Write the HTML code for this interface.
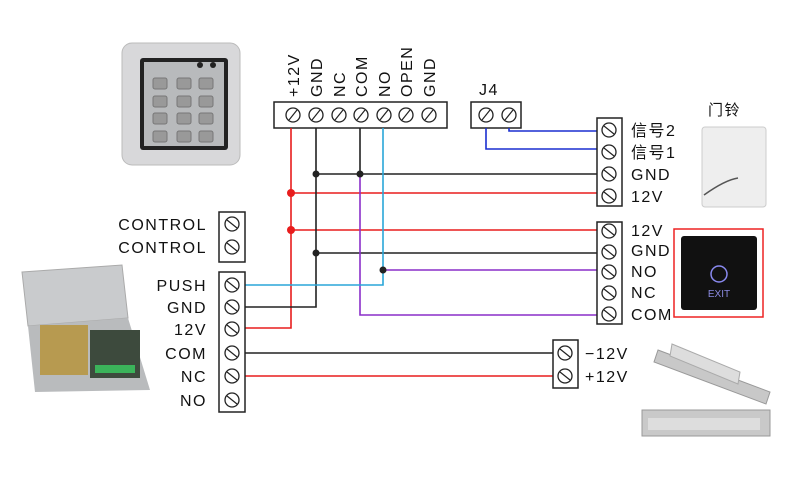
<!DOCTYPE html>
<html><head><meta charset="utf-8"><style>
html,body{margin:0;padding:0;background:#fff;}
svg{display:block;}
text{font-family:"Liberation Sans","Noto Sans CJK SC",sans-serif;font-size:16px;fill:#111;letter-spacing:1.5px;}
</style></head><body>
<svg width="794" height="482" viewBox="0 0 794 482" xmlns="http://www.w3.org/2000/svg">
<defs>
<g id="sa"><circle r="7" fill="#fff" stroke="#222" stroke-width="1.3"/><line x1="-5" y1="-4" x2="5" y2="4" stroke="#222" stroke-width="1.2"/></g>
<g id="sb"><circle r="7" fill="#fff" stroke="#222" stroke-width="1.3"/><line x1="-4" y1="5" x2="4" y2="-5" stroke="#222" stroke-width="1.2"/></g>
</defs>
<!-- keypad -->
<rect x="122" y="43" width="118" height="122" rx="10" fill="#d8d8da" stroke="#bbb"/>
<rect x="140" y="58" width="88" height="92" rx="3" fill="#222"/>
<rect x="144" y="62" width="80" height="84" fill="#b8babc"/>
<circle cx="200" cy="65" r="3" fill="#222"/><circle cx="213" cy="65" r="3" fill="#222"/>
<g fill="#999" stroke="#777">
<rect x="153" y="78" width="14" height="11" rx="2"/><rect x="177" y="78" width="14" height="11" rx="2"/><rect x="199" y="78" width="14" height="11" rx="2"/>
<rect x="153" y="96" width="14" height="11" rx="2"/><rect x="177" y="96" width="14" height="11" rx="2"/><rect x="199" y="96" width="14" height="11" rx="2"/>
<rect x="153" y="113" width="14" height="11" rx="2"/><rect x="177" y="113" width="14" height="11" rx="2"/><rect x="199" y="113" width="14" height="11" rx="2"/>
<rect x="153" y="131" width="14" height="11" rx="2"/><rect x="177" y="131" width="14" height="11" rx="2"/><rect x="199" y="131" width="14" height="11" rx="2"/>
</g>
<!-- power supply -->
<polygon points="22,272 122,265 128,318 28,326" fill="#c9cbcd" stroke="#aaa"/>
<polygon points="28,326 128,318 150,390 35,392" fill="#b9bbbd"/>
<rect x="40" y="325" width="48" height="50" fill="#b79a50"/>
<rect x="90" y="330" width="50" height="48" fill="#3d4a3d"/>
<rect x="95" y="365" width="40" height="8" fill="#3bb35a"/>
<!-- top terminal block -->
<rect x="274" y="102" width="173" height="26" fill="#fff" stroke="#222" stroke-width="1.5"/>
<use href="#sb" x="293" y="115"/><use href="#sb" x="316" y="115"/><use href="#sb" x="339" y="115"/><use href="#sb" x="361" y="115"/><use href="#sb" x="384" y="115"/><use href="#sb" x="406" y="115"/><use href="#sb" x="429" y="115"/>
<g>
<text transform="translate(299,97) rotate(-90)">+12V</text>
<text transform="translate(322,97) rotate(-90)">GND</text>
<text transform="translate(345,97) rotate(-90)">NC</text>
<text transform="translate(367,97) rotate(-90)">COM</text>
<text transform="translate(390,97) rotate(-90)">NO</text>
<text transform="translate(412,97) rotate(-90)">OPEN</text>
<text transform="translate(435,97) rotate(-90)">GND</text>
</g>
<!-- J4 -->
<text x="479" y="95">J4</text>
<rect x="471" y="102" width="50" height="26" fill="#fff" stroke="#222" stroke-width="1.5"/>
<use href="#sb" x="486" y="115"/><use href="#sb" x="509" y="115"/>
<!-- wires -->
<g fill="none" stroke-width="1.6">
<polyline points="509,128 509,131 597,131" stroke="#1a2fd0"/>
<polyline points="486,128 486,149 597,149" stroke="#1a2fd0"/>
<polyline points="291,128 291,328 245,328" stroke="#e81d1d"/>
<line x1="291" y1="193" x2="597" y2="193" stroke="#e81d1d"/>
<line x1="291" y1="230" x2="597" y2="230" stroke="#e81d1d"/>
<polyline points="316,128 316,307 245,307" stroke="#222"/>
<line x1="316" y1="174" x2="597" y2="174" stroke="#222"/>
<line x1="316" y1="253" x2="597" y2="253" stroke="#222"/>
<line x1="360" y1="128" x2="360" y2="174" stroke="#222"/>
<polyline points="360,174 360,315 597,315" stroke="#8a2fc9"/>
<polyline points="383,128 383,285 245,285" stroke="#2aa6d8"/>
<line x1="383" y1="270" x2="597" y2="270" stroke="#8a2fc9"/>
<line x1="245" y1="353" x2="553" y2="353" stroke="#222"/>
<line x1="245" y1="376" x2="553" y2="376" stroke="#e81d1d"/>
</g>
<circle cx="291" cy="193" r="4" fill="#e81d1d"/><circle cx="291" cy="230" r="4" fill="#e81d1d"/>
<circle cx="316" cy="174" r="3.5" fill="#222"/><circle cx="360" cy="174" r="3.5" fill="#222"/>
<circle cx="316" cy="253" r="3.5" fill="#222"/><circle cx="383" cy="270" r="3.5" fill="#222"/>
<!-- control block -->
<rect x="219" y="212" width="26" height="50" fill="#fff" stroke="#222" stroke-width="1.5"/>
<use href="#sa" x="232" y="224"/><use href="#sa" x="232" y="247"/>
<text x="207" y="230" text-anchor="end">CONTROL</text>
<text x="207" y="253" text-anchor="end">CONTROL</text>
<!-- left block -->
<rect x="219" y="272" width="26" height="140" fill="#fff" stroke="#222" stroke-width="1.5"/>
<use href="#sa" x="232" y="285"/><use href="#sa" x="232" y="307"/><use href="#sa" x="232" y="329"/><use href="#sa" x="232" y="353"/><use href="#sa" x="232" y="376"/><use href="#sa" x="232" y="400"/>
<text x="207" y="291" text-anchor="end">PUSH</text>
<text x="207" y="313" text-anchor="end">GND</text>
<text x="207" y="335" text-anchor="end">12V</text>
<text x="207" y="359" text-anchor="end">COM</text>
<text x="207" y="382" text-anchor="end">NC</text>
<text x="207" y="406" text-anchor="end">NO</text>
<!-- right block 1 -->
<rect x="597" y="118" width="25" height="88" fill="#fff" stroke="#222" stroke-width="1.5"/>
<use href="#sa" x="609" y="130"/><use href="#sa" x="609" y="152"/><use href="#sa" x="609" y="174"/><use href="#sa" x="609" y="196"/>
<text x="631" y="136">信号2</text><text x="631" y="158">信号1</text><text x="631" y="180">GND</text><text x="631" y="202">12V</text>
<!-- right block 2 -->
<rect x="597" y="222" width="25" height="102" fill="#fff" stroke="#222" stroke-width="1.5"/>
<use href="#sa" x="609" y="231"/><use href="#sa" x="609" y="252"/><use href="#sa" x="609" y="272"/><use href="#sa" x="609" y="293"/><use href="#sa" x="609" y="314"/>
<text x="631" y="236">12V</text><text x="631" y="256">GND</text><text x="631" y="277">NO</text><text x="631" y="298">NC</text><text x="631" y="320">COM</text>
<!-- lock block -->
<rect x="553" y="340" width="25" height="48" fill="#fff" stroke="#222" stroke-width="1.5"/>
<use href="#sa" x="565" y="353"/><use href="#sa" x="565" y="376"/>
<text x="585" y="359">−12V</text><text x="585" y="382">+12V</text>
<!-- doorbell -->
<text x="708" y="115" style="font-size:15px">门铃</text>
<rect x="702" y="127" width="64" height="80" rx="3" fill="#eeeeee" stroke="#ccc"/>
<path d="M704 195 Q725 180 738 178" stroke="#555" fill="none" stroke-width="1.5"/>
<!-- exit button -->
<rect x="674" y="229" width="89" height="88" fill="#fff" stroke="#e22" stroke-width="1.5"/>
<rect x="681" y="236" width="76" height="74" rx="3" fill="#111"/>
<circle cx="719" cy="274" r="8" fill="none" stroke="#8a8af0" stroke-width="1.5"/>
<text x="719" y="297" text-anchor="middle" style="font-size:10px;fill:#8a8ae0;letter-spacing:0">EXIT</text>
<!-- lock pictures -->
<polygon points="658,350 770,392 766,404 654,362" fill="#c8c8c8" stroke="#999"/>
<polygon points="672,344 740,372 738,384 670,356" fill="#ddd" stroke="#aaa"/>
<rect x="642" y="410" width="128" height="26" fill="#c9c9c9" stroke="#999"/>
<rect x="648" y="418" width="112" height="12" fill="#ddd"/>
</svg>
</body></html>
